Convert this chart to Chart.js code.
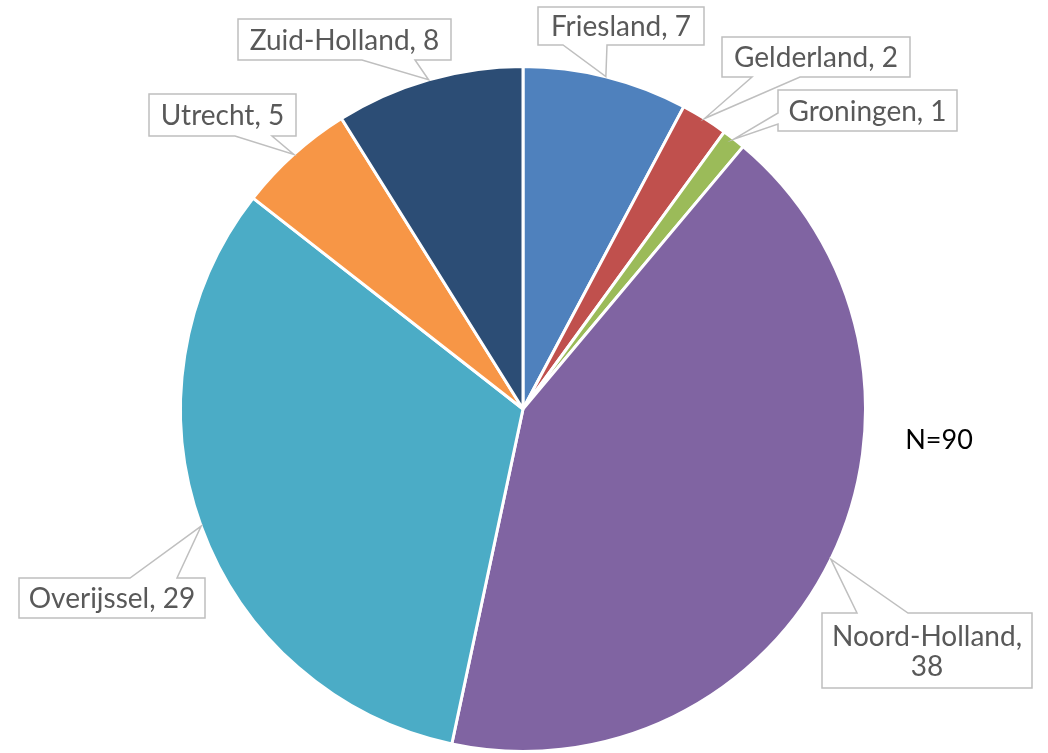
<!DOCTYPE html>
<html>
<head>
<meta charset="utf-8">
<script src="https://cdn.jsdelivr.net/npm/chart.js@4/dist/chart.umd.min.js"></script>
<style>
  html, body { margin: 0; padding: 0; background: #ffffff; }
  #wrap { width: 1048px; height: 753px; position: relative; }
</style>
</head>
<body>
<div id="wrap"><canvas id="c" width="1048" height="753"></canvas></div>
<script>
// ---- data ----
const categories = ["Friesland", "Gelderland", "Groningen", "Noord-Holland", "Overijssel", "Utrecht", "Zuid-Holland"];
const values = [7, 2, 1, 38, 29, 5, 8];
const totalLabel = "N=90";

// ---- styles / layout (not data) ----
const sliceColors = ["#4f81bd", "#c0504d", "#9bbb59", "#8064a2", "#4bacc6", "#f79646", "#2c4d75"];
// callout boxes: x, y, w, h, pointer edge, base from a to b (along that edge)
const calloutLayout = [
  { x: 538, y: 7,   w: 166, h: 38, edge: "bottom", a: 563, b: 607 },
  { x: 722, y: 37,  w: 188, h: 40, edge: "bottom", a: 752, b: 800 },
  { x: 778, y: 90,  w: 179, h: 41, edge: "left",   a: 113, b: 124 },
  { x: 822, y: 613, w: 210, h: 75, edge: "top",    a: 857, b: 908, lines: true },
  { x: 19,  y: 578, w: 186, h: 40, edge: "top",    a: 130, b: 177 },
  { x: 149, y: 94,  w: 147, h: 42, edge: "bottom", a: 235, b: 272 },
  { x: 238, y: 19,  w: 213, h: 41, edge: "bottom", a: 362, b: 415 }
];
const labelFont = "28px Lato, 'Open Sans', sans-serif";
const labelColor = "#595959";
const calloutBorder = "#bfbfbf";

const calloutPlugin = {
  id: "callouts",
  afterDatasetsDraw(chart) {
    const ctx = chart.ctx;
    const meta = chart.getDatasetMeta(0);
    meta.data.forEach((arc, i) => {
      const p = arc.getProps(["x", "y", "startAngle", "endAngle", "outerRadius"], true);
      const mid = (p.startAngle + p.endAngle) / 2;
      const R = p.outerRadius;
      const tx = p.x + Math.cos(mid) * R;
      const ty = p.y + Math.sin(mid) * R;
      const L = calloutLayout[i];
      const x0 = L.x, y0 = L.y, x1 = L.x + L.w, y1 = L.y + L.h;
      ctx.save();
      ctx.beginPath();
      ctx.moveTo(x0, y0);
      if (L.edge === "top") { ctx.lineTo(L.a, y0); ctx.lineTo(tx, ty); ctx.lineTo(L.b, y0); }
      ctx.lineTo(x1, y0);
      ctx.lineTo(x1, y1);
      if (L.edge === "bottom") { ctx.lineTo(L.b, y1); ctx.lineTo(tx, ty); ctx.lineTo(L.a, y1); }
      ctx.lineTo(x0, y1);
      if (L.edge === "left") { ctx.lineTo(x0, L.b); ctx.lineTo(tx, ty); ctx.lineTo(x0, L.a); }
      ctx.closePath();
      ctx.fillStyle = "#ffffff";
      ctx.fill();
      ctx.lineWidth = 1.5;
      ctx.strokeStyle = calloutBorder;
      ctx.lineJoin = "miter";
      ctx.stroke();
      ctx.fillStyle = labelColor;
      ctx.font = labelFont;
      ctx.textAlign = "center";
      ctx.textBaseline = "middle";
      const cx = (x0 + x1) / 2, cy = (y0 + y1) / 2;
      if (L.lines) {
        ctx.fillText(categories[i] + ",", cx, cy - 14);
        ctx.fillText(String(values[i]), cx, cy + 16);
      } else {
        ctx.fillText(categories[i] + ", " + values[i], cx, cy + 1);
      }
      ctx.restore();
    });
    // N label
    ctx.save();
    ctx.fillStyle = "#000000";
    ctx.font = "27px Lato, sans-serif";
    ctx.textAlign = "center";
    ctx.textBaseline = "middle";
    ctx.fillText(totalLabel, 939, 440);
    ctx.restore();
  }
};

new Chart(document.getElementById("c"), {
  type: "pie",
  data: {
    labels: categories,
    datasets: [{
      data: values,
      backgroundColor: sliceColors,
      borderColor: "#ffffff",
      borderWidth: 3
    }]
  },
  options: {
    responsive: false,
    animation: false,
    events: [],
    layout: { padding: { top: 65, bottom: 0, left: 179, right: 181 } },
    plugins: { legend: { display: false }, tooltip: { enabled: false } }
  },
  plugins: [calloutPlugin]
});
</script>
</body>
</html>
